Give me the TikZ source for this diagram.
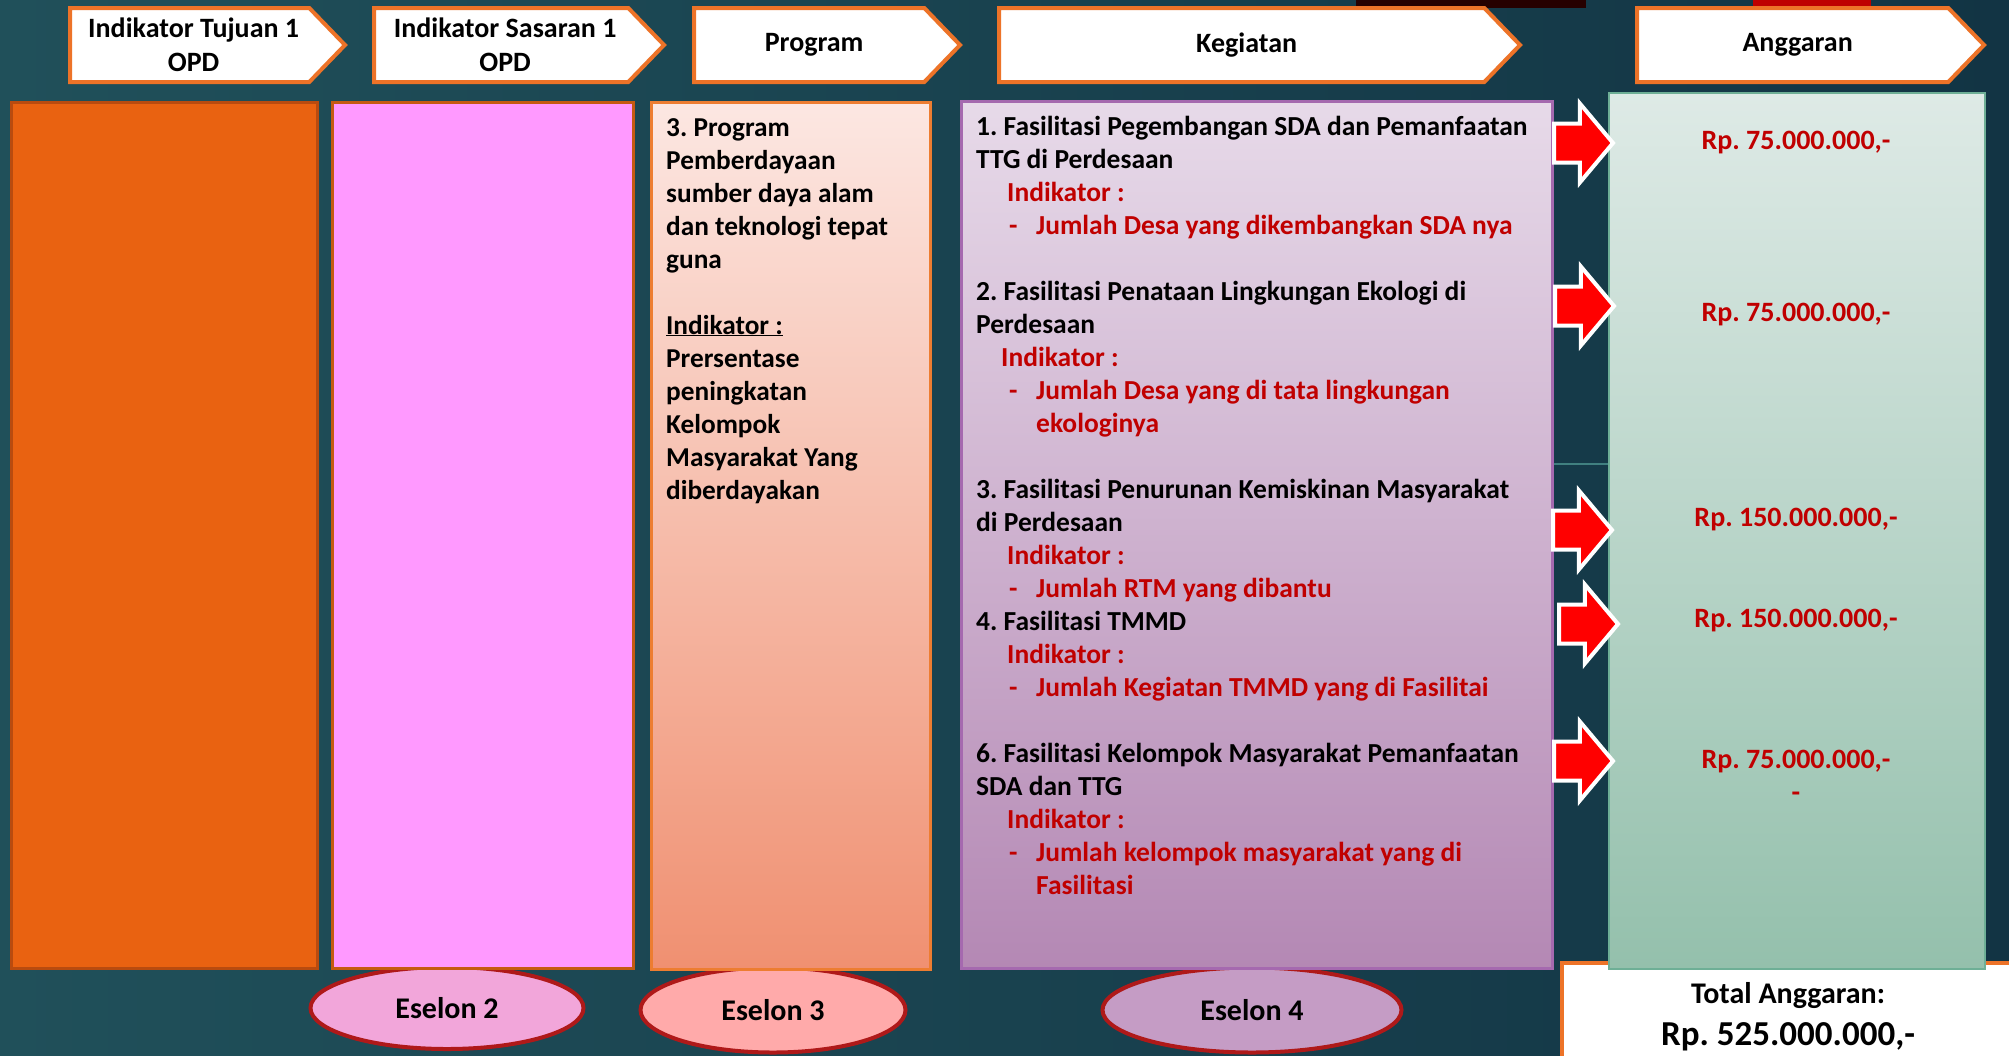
\documentclass[tikz,border=0pt]{standalone}
\usepackage{fontspec}
\setmainfont{Carlito}
\frenchspacing
\usetikzlibrary{positioning, shapes.geometric, shapes.symbols, shapes.arrows}

\definecolor{bgleft}{RGB}{32,80,90}
\definecolor{bgmid}{RGB}{58,118,108}
\definecolor{bgright}{RGB}{18,52,68}
\definecolor{hdrorange}{RGB}{237,115,40}
\definecolor{tujuanfill}{RGB}{233,98,17}
\definecolor{tujuanline}{RGB}{185,75,15}
\definecolor{sasaranfill}{RGB}{255,153,255}
\definecolor{sasaranline}{RGB}{197,90,17}
\definecolor{progtop}{RGB}{252,231,226}
\definecolor{progbot}{RGB}{240,144,113}
\definecolor{progline}{RGB}{237,125,49}
\definecolor{kegtop}{RGB}{231,218,233}
\definecolor{kegbot}{RGB}{180,136,180}
\definecolor{kegline}{RGB}{165,105,175}
\definecolor{angtop}{RGB}{222,234,230}
\definecolor{angbot}{RGB}{148,192,172}
\definecolor{angline}{RGB}{110,175,150}
\definecolor{kgred}{RGB}{192,0,0}
\definecolor{eselonline}{RGB}{175,25,25}
\definecolor{eselonA}{RGB}{242,166,218}
\definecolor{eselonB}{RGB}{255,170,170}
\definecolor{eselonC}{RGB}{197,156,197}

% indented red lines of the Kegiatan list
\newcommand{\kgind}[2]{\hspace*{#1pt}{\color{kgred}#2}}
\newcommand{\kgitem}[1]{\hspace*{33pt}{\color{kgred}\makebox[27pt][l]{-}#1}}
\newcommand{\kgcont}[1]{\hspace*{60pt}{\color{kgred}#1}}

\tikzset{
  hdr/.style={signal, signal to=east, signal pointer angle=92, draw=hdrorange,
    line width=4, fill=white, inner sep=0pt, align=center, anchor=west,
    minimum height=74, font=\bfseries\fontsize{28}{34}\selectfont},
  col/.style={rectangle, line width=2.5, anchor=north west, inner sep=0pt},
  bodytext/.style={align=left, inner sep=0pt, anchor=base west,
    font=\bfseries\fontsize{27.3}{33}\selectfont},
  amount/.style={text=kgred, inner sep=0pt, font=\bfseries\fontsize{28}{33}\selectfont},
  redarrow/.style={single arrow, fill=red, draw=white, line width=4, anchor=tail,
    inner xsep=0pt, inner ysep=17.5, minimum height=59,
    single arrow head extend=20, single arrow tip angle=100},
  eselon/.style={ellipse, draw=eselonline, line width=4, inner sep=0pt,
    font=\bfseries\fontsize{30}{36}\selectfont},
}

\begin{document}
\begin{tikzpicture}[x=1pt, y=-1pt]
    % Slide background
    \useasboundingbox (0,0) rectangle (2009,1055);
    \clip (0,0) rectangle (2009,1055);
    \fill[left color=bgleft, middle color=bgmid, right color=bgright] (0,0) rectangle (2009,1055);
    \fill[black!85!red] (1356,0) rectangle (1586,8);
    \fill[red!75!black] (1753,0) rectangle (1871,8);

    % Header arrows
    \node[hdr, minimum width=275] (hTujuan) at (68,45) {\hspace*{8pt}Indikator Tujuan 1\\\hspace*{8pt}OPD};
    \node[hdr, minimum width=290] (hSasaran) at (372,45) {\hspace*{8pt}Indikator Sasaran 1\\\hspace*{8pt}OPD};
    \node[hdr, minimum width=266] (hProgram) at (692,45) {\hspace*{10pt}Program};
    \node[hdr, minimum width=521] (hKegiatan) at (997,45) {\hspace*{10pt}Kegiatan};
    \node[hdr, minimum width=347] (hAnggaran) at (1635,45) {\hspace*{10pt}Anggaran};

    % Eselon labels under the columns
    \node[eselon, fill=eselonA, minimum width=273, minimum height=82] (es2) at (447,1008) {Eselon 2};
    \node[eselon, fill=eselonB, minimum width=265, minimum height=85] (es3) at (773,1010) {Eselon 3};
    \node[eselon, fill=eselonC, minimum width=299, minimum height=85] (es4) at (1252,1010) {Eselon 4};

    % Total box (partly under the Anggaran column)
    \node[draw=hdrorange, fill=white, line width=4, anchor=north west,
          minimum width=500, minimum height=150] (total) at (1560,961) {};
    \node[font=\bfseries\fontsize{30}{36}\selectfont] (totlbl) at (1788,996) {Total Anggaran:};
    \node[font=\bfseries\fontsize{35}{42}\selectfont] (totval) at (1788,1037) {Rp. 525.000.000,-};

    % Columns
    \node[col, draw=tujuanline, fill=tujuanfill, minimum width=306, minimum height=866] (tujuan) at (10,101) {};
    \node[col, draw=sasaranline, fill=sasaranfill, minimum width=301, minimum height=866] (sasaran) at (331,101) {};
    \node[col, draw=progline, top color=progtop, bottom color=progbot,
          minimum width=279, minimum height=867] (program) at (650,101) {};
    \node[col, draw=kegline, top color=kegtop, bottom color=kegbot,
          minimum width=591, minimum height=867] (kegiatan) at (960,100) {};
    \node[col, draw=angline, line width=2, top color=angtop, bottom color=angbot,
          minimum width=376, minimum height=876] (anggaran) at (1608,92) {};

    % Thin line between Kegiatan and Anggaran
    \coordinate (sep) at (0,464);
    \draw[gray!50!teal, line width=1.5] (kegiatan.east |- sep) -- (anggaran.west |- sep);

    % Program text (base = last line)
    \node[bodytext] (progtxt) at (666,499) {3. Program\\Pemberdayaan\\sumber daya alam\\dan teknologi tepat\\guna\\[33pt]%
        \underline{Indikator :}\\Prersentase\\peningkatan\\Kelompok\\Masyarakat Yang\\diberdayakan};

    % Kegiatan text (base = last line)
    \node[bodytext, font=\bfseries\fontsize{27.5}{33}\selectfont] (kegtxt) at (976,894) {%
        1. Fasilitasi Pegembangan SDA dan Pemanfaatan\\
        TTG di Perdesaan\\
        \kgind{31}{Indikator :}\\
        \kgitem{Jumlah Desa yang dikembangkan SDA nya}\\[33pt]
        2. Fasilitasi Penataan Lingkungan Ekologi di\\
        Perdesaan\\
        \kgind{25}{Indikator :}\\
        \kgitem{Jumlah Desa yang di tata lingkungan}\\
        \kgcont{ekologinya}\\[33pt]
        3. Fasilitasi Penurunan Kemiskinan Masyarakat\\
        di Perdesaan\\
        \kgind{31}{Indikator :}\\
        \kgitem{Jumlah RTM yang dibantu}\\
        4. Fasilitasi TMMD\\
        \kgind{31}{Indikator :}\\
        \kgitem{Jumlah Kegiatan TMMD yang di Fasilitai}\\[33pt]
        6. Fasilitasi Kelompok Masyarakat Pemanfaatan\\
        SDA dan TTG\\
        \kgind{31}{Indikator :}\\
        \kgitem{Jumlah kelompok masyarakat yang di}\\
        \kgcont{Fasilitasi}};

    % Red arrows into the Anggaran column
    \foreach \n/\xx/\yy in {1/1552/143, 2/1553/306, 3/1551/530, 4/1557/624, 5/1552/761}
        \node[redarrow] (arr\n) at (\xx,\yy) {};

    % Amounts
    \foreach \n/\yy/\amt in {1/143/{Rp. 75.000.000,-}, 2/315/{Rp. 75.000.000,-},
                             3/520/{Rp. 150.000.000,-}, 4/621/{Rp. 150.000.000,-}}
        \node[amount] (amt\n) at (1796,\yy) {\amt};
    \node[amount, align=center, anchor=base] (amt5) at (1796,801) {Rp. 75.000.000,-\\-};
\end{tikzpicture}
\end{document}
